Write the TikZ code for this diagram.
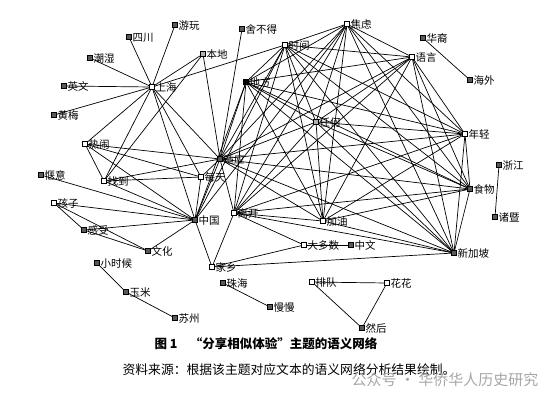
\documentclass[tikz,border=0pt]{standalone}
\usepackage{fontspec}
\newfontfamily\cjk{Noto Sans CJK SC}
\tikzset{
  term/.style={draw,fill=black!65,minimum size=4.8pt,inner sep=0pt,line width=.6pt,
    label={[inner sep=.8pt,label distance=0pt,yshift=-.8pt]right:#1}},
  termw/.style={term=#1,fill=white},
  link/.style={line width=.7pt}
}
\begin{document}
\begin{tikzpicture}[x=1pt,y=-1pt,font=\cjk\fontsize{10.5}{11}\selectfont]
\useasboundingbox (0,0) rectangle (556,400);
% word nodes
\node[term=游玩] (youwan) at (175,25) {};
\node[term=四川] (sichuan) at (129,37) {};
\node[term=舍不得] (shebude) at (242,29) {};
\node[term=本地,fill=black!30] (bendi) at (203,54) {};
\node[term=潮湿] (chaoshi) at (90,58) {};
\node[term=英文] (yingwen) at (64,86) {};
\node[termw=上海] (shanghai) at (152,87) {};
\node[term=黄梅] (huangmei) at (54,115) {};
\node[termw=焦虑] (jiaolv) at (347,24) {};
\node[termw=时间] (shijian) at (285,45) {};
\node[termw=语言] (yuyan) at (412,57) {};
\node[term=华裔] (huayi) at (423,38) {};
\node[term=海外] (haiwai) at (470,80) {};
\node[term=地方,fill=black] (difang) at (246,82) {};
\node[term=任何,fill=black!30] (renhe) at (316,122) {};
\node[termw=年轻] (nianqing) at (465,134) {};
\node[termw=热闹] (renao) at (85,144) {};
\node[term=适应] (shiying) at (220,159) {};
\node[termw=找到] (zhaodao) at (104,181) {};
\node[termw=每天] (meitian) at (201,177) {};
\node[term=中国] (zhongguo) at (195,220) {};
\node[termw=离开] (likai) at (234,213) {};
\node[termw=加油] (jiayou) at (323,221) {};
\node[term=食物] (shiwu) at (470,189) {};
\node[term=浙江] (zhejiang) at (499,165) {};
\node[term=诸暨] (zhuji) at (495,217) {};
\node[term=新加坡] (xinjiapo) at (454,253) {};
\node[termw=大多数] (daduoshu) at (304,245) {};
\node[term=中文] (zhongwen) at (351,245) {};
\node[termw=家乡] (jiaxiang) at (212,267) {};
\node[term=惬意] (qieyi) at (41,175) {};
\node[termw=孩子] (haizi) at (54,203) {};
\node[term=感受] (ganshou) at (84,230) {};
\node[term=文化] (wenhua) at (148,251) {};
\node[term=小时候] (xiaoshihou) at (97,263) {};
\node[term=玉米] (yumi) at (126,292) {};
\node[term=苏州] (suzhou) at (175,318) {};
\node[term=珠海] (zhuhai) at (223,283) {};
\node[term=慢慢] (manman) at (270,307) {};
\node[termw=排队] (paidui) at (312,282) {};
\node[termw=花花] (huahua) at (387,283) {};
\node[term=然后] (ranhou) at (362,328) {};
% links around 上海 and 中国
\foreach \a/\b in {shanghai/youwan,shanghai/sichuan,shanghai/chaoshi,shanghai/yingwen,shanghai/huangmei,
  shanghai/bendi,shanghai/shijian,shanghai/renao,shanghai/zhaodao,shanghai/zhongguo,shanghai/meitian,
  shanghai/shiying,bendi/zhaodao,bendi/shiying,shebude/shiying,renao/zhaodao,renao/shiying,renao/meitian,
  renao/zhongguo,zhaodao/meitian,zhaodao/shiying,zhaodao/zhongguo,meitian/shiying,meitian/zhongguo,
  zhongguo/qieyi,zhongguo/haizi,zhongguo/ganshou,zhongguo/wenhua,zhongguo/jiaxiang,zhongguo/shiying,
  haizi/ganshou,haizi/wenhua,ganshou/wenhua,likai/jiaxiang,likai/daduoshu,jiaxiang/daduoshu,
  jiaxiang/xinjiapo,daduoshu/zhongwen,xiaoshihou/yumi,yumi/suzhou,zhuhai/manman,paidui/huahua,
  paidui/ranhou,huahua/ranhou,huayi/haiwai,zhejiang/zhuji}
  \draw[link] (\a) -- (\b);
% dense core
\foreach \a/\b in {jiaolv/shijian,jiaolv/yuyan,jiaolv/difang,jiaolv/shiying,jiaolv/likai,jiaolv/jiayou,
  jiaolv/renhe,jiaolv/nianqing,jiaolv/shiwu,jiaolv/xinjiapo,jiaolv/zhongguo,
  shijian/yuyan,shijian/difang,shijian/shiying,shijian/likai,shijian/jiayou,shijian/renhe,
  shijian/shiwu,shijian/nianqing,shijian/xinjiapo,shijian/zhongguo,
  yuyan/difang,yuyan/shiying,yuyan/likai,yuyan/jiayou,yuyan/renhe,yuyan/nianqing,yuyan/shiwu,
  yuyan/xinjiapo,difang/shiying,difang/likai,difang/jiayou,difang/renhe,difang/nianqing,
  difang/shiwu,difang/xinjiapo,difang/zhongguo,renhe/shiying,renhe/likai,renhe/jiayou,
  renhe/nianqing,renhe/shiwu,renhe/xinjiapo,nianqing/shiwu,nianqing/xinjiapo,nianqing/shiying,
  nianqing/likai,nianqing/jiayou,shiwu/xinjiapo,shiwu/shiying,shiwu/likai,shiwu/jiayou,
  xinjiapo/shiying,xinjiapo/likai,xinjiapo/jiayou,jiayou/shiying,jiayou/likai,shiying/likai}
  \draw[link] (\a) -- (\b);
% caption
\node[font=\cjk\bfseries\fontsize{12.5}{14}\selectfont] (cap) at (266,344) {图 1\quad “分享相似体验”主题的语义网络};
\node[font=\cjk\fontsize{12.8}{14}\selectfont] (src) at (289,370) {资料来源：根据该主题对应文本的语义网络分析结果绘制。};
\node[font=\cjk\fontsize{15}{16}\selectfont,text=black!35] (wm) at (445,380) {公众号 · 华侨华人历史研究};
\end{tikzpicture}
\end{document}
